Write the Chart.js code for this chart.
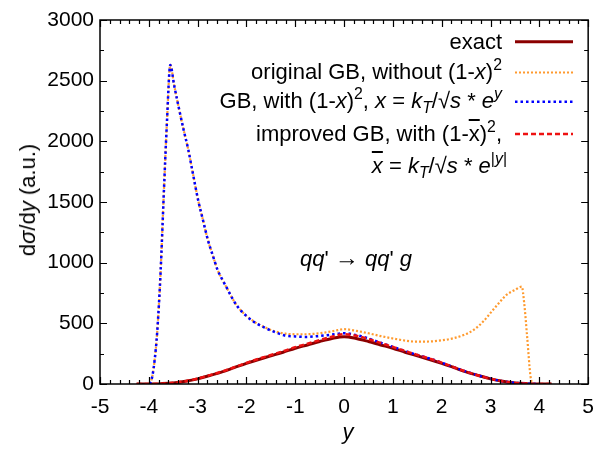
<!DOCTYPE html>
<html>
<head>
<meta charset="utf-8">
<script src="https://cdn.jsdelivr.net/npm/chart.js@4"></script>
<style>
  html, body { margin: 0; padding: 0; background: #fff; overflow: hidden; }
  #wrap { position: relative; width: 605px; height: 449px; font-family: "Liberation Sans", Arial, Helvetica, sans-serif; color: #000; }
  canvas { position: absolute; left: 0; top: 0; }
  .txt { position: absolute; font-size: 22px; line-height: 24px; white-space: nowrap; }
  .txt sup { font-size: 0.72em; vertical-align: 0; position: relative; top: -0.55em; }
  .txt sub { font-size: 0.72em; vertical-align: 0; position: relative; top: 0.3em; }
  .ov { text-decoration: overline; }
  .row { right: 103px; transform: translateY(-50%); }
  .ctr { transform: translate(-50%, -50%); }
</style>
</head>
<body>
<div id="wrap">
  <canvas id="c" width="605" height="449" style="width:605px;height:449px"></canvas>
  <div class="txt row" style="top:41.7px">exact</div>
  <div class="txt row" style="top:73px">original GB, without (1-<i>x</i>)<sup>2</sup></div>
  <div class="txt row" style="top:102px">GB, with (1-<i>x</i>)<sup>2</sup>, <i>x</i> = <i>k<sub>T</sub></i>/√<i>s</i> * <i>e<sup>y</sup></i></div>
  <div class="txt row" style="top:135px">improved GB, with (1-<span class="ov">x</span>)<sup>2</sup>,</div>
  <div class="txt row" style="top:167px;right:98px"><i class="ov">x</i> = <i>k<sub>T</sub></i>/√<i>s</i> * <i>e</i><sup>|<i>y</i>|</sup></div>
  <div class="txt ctr" style="left:356px;top:258px"><i>qq</i>'&nbsp;<span style="font-size:1.1em">→</span>&nbsp;<i>qq</i>'&nbsp;<i>g</i></div>
  <div class="txt ctr" style="left:348px;top:432px"><i>y</i></div>
  <div class="txt ctr" style="left:28px;top:200px;transform:translate(-50%,-50%) rotate(-90deg)">d<i>σ</i>/d<i>y</i> (a.u.)</div>
</div>
<script>
// ---- data ----
const exactX = [-4.25,-4,-3.75,-3.5,-3.25,-3,-2.75,-2.5,-2.25,-2,-1.75,-1.5,-1.25,-1,-0.75,-0.5,-0.25,0,
                0.25,0.5,0.75,1,1.25,1.5,1.75,2,2.25,2.5,2.75,3,3.25,3.5,3.75,4,4.25];
const exactY = [0,0,3,9,22,42,70,100,135,170,202,232,262,295,322,350,375,390,
                375,350,322,295,262,232,202,170,135,100,70,42,22,9,3,0,0];
const improvedY = [0,0,3,10,23,44,73,103,138,174,208,239,270,304,332,362,390,410,
                   398,370,338,306,272,240,210,176,138,102,70,43,22,9,3,0,0];
const gbX = [-3.98,-3.93,-3.88,-3.83,-3.76,-3.69,-3.63,-3.56,-3.48,-3.39,-3.29,-3.19,-3.09,-2.99,-2.89,-2.79,-2.69,-2.59,
             -2.48,-2.38,-2.28,-2.18,-2.0,-1.8,-1.6,-1.4,-1.2,-1.0,-0.8,-0.6,-0.4,-0.2,0,
             0.25,0.5,0.75,1,1.25,1.5,1.75,2,2.25,2.5,2.75,3,3.25,3.5,3.75,4];
const gbY = [0,60,200,418,912,1599,2148,2630,2460,2285,2100,1928,1720,1516,1350,1187,1060,939,
             850,775,700,637,560,500,459,425,398,392,388,392,400,410,418,
             403,375,340,306,272,240,210,176,138,102,70,43,22,9,3,0];
const origX = [-3.98,-3.93,-3.88,-3.83,-3.76,-3.69,-3.63,-3.56,-3.48,-3.39,-3.29,-3.19,-3.09,-2.99,-2.89,-2.79,-2.69,-2.59,
               -2.48,-2.38,-2.28,-2.18,-2.0,-1.8,-1.6,-1.4,-1.2,-1.0,-0.8,-0.6,-0.4,-0.2,0,
               0.25,0.5,0.75,1.0,1.25,1.45,1.7,2.0,2.25,2.45,2.65,2.85,3.05,3.2,3.32,3.5,3.64,3.69,3.75,3.82,3.87];
const origY = [0,60,200,418,912,1599,2148,2630,2460,2285,2100,1928,1720,1516,1350,1187,1060,939,
               850,775,700,637,562,503,463,432,415,410,410,414,424,438,452,
               438,418,395,375,358,350,350,360,378,404,445,515,610,680,733,775,802,665,390,60,0];
const xTicks = [-5,-4,-3,-2,-1,0,1,2,3,4,5];
const yTicks = [0,500,1000,1500,2000,2500,3000];

const pts = (xs, ys) => xs.map((x, i) => ({ x: x, y: ys[i] }));

const styles = {
  exact:    { color: '#8b0000', width: 3,   dash: [] },
  orig:     { color: '#ff9a2e', width: 2.2, dash: [2, 2] },
  gb:       { color: '#0000ff', width: 2.5, dash: [2.5, 3] },
  improved: { color: '#ee1111', width: 2.5, dash: [5, 3] }
};

const frame = {
  id: 'frame',
  afterDraw(chart) {
    const { ctx, chartArea: a, scales: { x, y } } = chart;
    ctx.save();
    ctx.strokeStyle = '#000';
    ctx.lineWidth = 1.2;
    ctx.beginPath();
    for (let v = -5; v <= 5.0001; v += 0.2) {
      const px = Math.round(x.getPixelForValue(v)) + 0.5;
      const major = Math.abs(v - Math.round(v)) < 1e-6;
      const L = major ? 7 : 4;
      ctx.moveTo(px, a.bottom); ctx.lineTo(px, a.bottom - L);
      ctx.moveTo(px, a.top); ctx.lineTo(px, a.top + L);
    }
    for (let v = 0; v <= 3000; v += 250) {
      const py = Math.round(y.getPixelForValue(v)) + 0.5;
      const L = (v % 500 === 0) ? 7 : 4;
      ctx.moveTo(a.left, py); ctx.lineTo(a.left + L, py);
      ctx.moveTo(a.right, py); ctx.lineTo(a.right - L, py);
    }
    ctx.stroke();
    ctx.lineWidth = 1.5;
    ctx.strokeRect(a.left, a.top, a.right - a.left, a.bottom - a.top);
    // legend samples
    const rows = [['exact', 41.7], ['orig', 72.5], ['gb', 101.7], ['improved', 134]];
    rows.forEach(([k, yy]) => {
      const s = styles[k];
      ctx.beginPath();
      ctx.strokeStyle = s.color; ctx.lineWidth = s.width; ctx.setLineDash(s.dash);
      ctx.moveTo(515, yy); ctx.lineTo(573, yy);
      ctx.stroke();
    });
    ctx.restore();
  }
};

const mk = (label, xs, ys, key, order) => ({
  label, data: pts(xs, ys), order,
  borderColor: styles[key].color, borderWidth: styles[key].width, borderDash: styles[key].dash,
  pointRadius: 0, fill: false, tension: 0.25, cubicInterpolationMode: 'monotone'
});

const tickFont = { size: 21, family: '"Liberation Sans", Arial' };

new Chart(document.getElementById('c'), {
  type: 'line',
  data: {
    datasets: [
      mk('improved GB', exactX, improvedY, 'improved', 0),
      mk('GB', gbX, gbY, 'gb', 1),
      mk('original GB', origX, origY, 'orig', 2),
      mk('exact', exactX, exactY, 'exact', 3)
    ]
  },
  options: {
    responsive: false, animation: false, devicePixelRatio: 1,
    layout: { padding: { top: 20, right: 8, left: 0, bottom: 0 } },
    plugins: { legend: { display: false }, tooltip: { enabled: false } },
    scales: {
      x: {
        type: 'linear', min: -5, max: 5,
        afterFit(s) { s.height = 65; },
        afterBuildTicks(s) { s.ticks = xTicks.map(v => ({ value: v })); },
        ticks: { color: '#000', font: tickFont, padding: 11, maxRotation: 0, autoSkip: false,
                 callback: v => String(v) },
        grid: { display: false, drawTicks: false },
        border: { display: false }
      },
      y: {
        min: 0, max: 3000,
        afterFit(s) { s.width = 100; },
        afterBuildTicks(s) { s.ticks = yTicks.map(v => ({ value: v })); },
        ticks: { color: '#000', font: tickFont, padding: 6, callback: v => String(v) },
        grid: { display: false, drawTicks: false },
        border: { display: false }
      }
    }
  },
  plugins: [frame]
});
</script>
</body>
</html>
